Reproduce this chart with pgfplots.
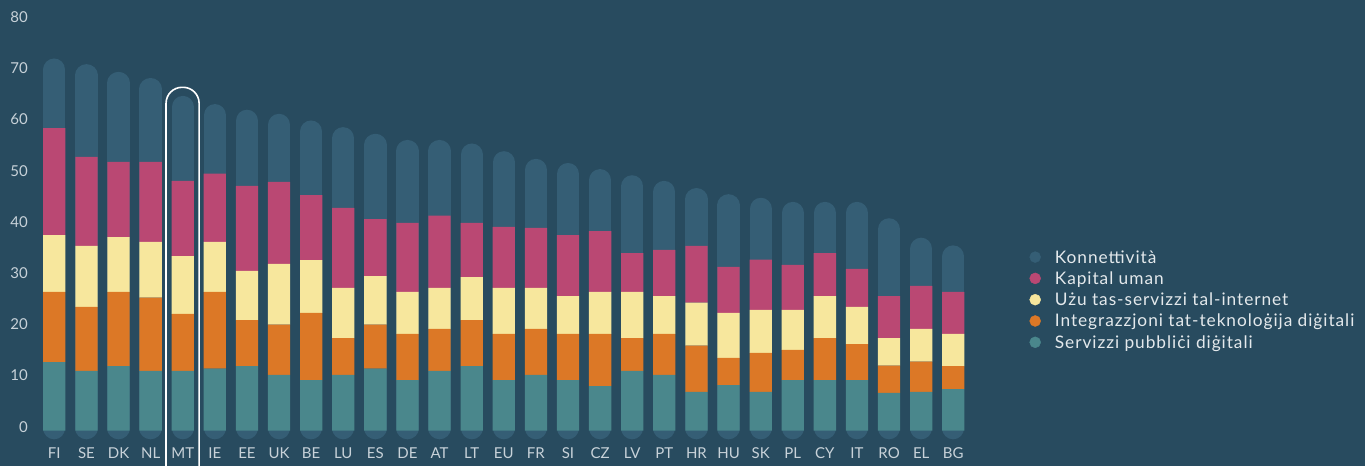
\documentclass[border=0pt]{standalone}
\usepackage{pgfplots}
\pgfplotsset{compat=1.18}
\usepackage{pgfplotstable}
\usepackage{fontspec}
\setmainfont{Lato}
\newfontfamily\legfont[LetterSpace=5.5]{Lato}
\definecolor{bg}{HTML}{284B5F}
\definecolor{pillc}{HTML}{355E75}
\definecolor{cTeal}{HTML}{4A878C}
\definecolor{cOrange}{HTML}{DC7826}
\definecolor{cYellow}{HTML}{F7E79D}
\definecolor{cPink}{HTML}{BA4873}
\definecolor{tickc}{HTML}{C8D2D9}
\definecolor{legc}{HTML}{E4E9EC}

\pgfplotstableread{
x  lab dps  int  use  hc   tot
0  FI  13.4 13.7 11.1 20.9 72.7
1  SE  11.7 12.5 11.9 17.4 71.6
2  DK  12.6 14.5 10.7 14.7 70.1
3  NL  11.7 14.3 10.9 15.6 68.9
4  MT  11.7 11.1 11.3 14.7 65.4
5  IE  12.1 15.0 9.8  13.3 63.8
6  EE  12.6 9.0  9.6  16.6 62.7
7  UK  10.9 9.8  11.9 16.0 61.9
8  BE  9.9  13.1 10.3 12.7 60.6
9  LU  10.9 7.2  9.8  15.6 59.3
10 ES  12.1 8.6  9.5  11.1 58.0
11 DE  9.9  9.0  8.2  13.5 56.8
12 AT  11.7 8.2  8.0  14.1 56.8
13 LT  12.6 9.0  8.4  10.6 56.1
14 EU  9.9  9.0  9.0  11.9 54.6
15 FR  10.9 9.0  8.0  11.7 53.1
16 SI  9.9  9.0  7.4  11.9 52.3
17 CZ  8.7  10.2 8.2  11.9 51.1
18 LV  11.7 6.4  9.0  7.6  49.9
19 PT  10.9 8.0  7.4  9.0  48.8
20 HR  7.6  9.0  8.4  11.1 47.4
21 HU  8.9  5.3  8.8  9.0  46.2
22 SK  7.6  7.6  8.4  9.8  45.5
23 PL  9.9  5.9  7.8  8.8  44.7
24 CY  9.9  8.2  8.2  8.4  44.7
25 IT  9.9  7.0  7.3  7.4  44.7
26 RO  7.4  5.3  5.4  8.2  41.5
27 EL  7.6  5.9  6.4  8.4  37.7
28 BG  8.1  4.5  6.3  8.2  36.2
}\desi

\pgfplotsset{
  base/.style={
    scale only axis, width=943.6pt, height=435.2pt,
    at={(32pt,19.94pt)}, anchor=south west,
    xmin=-0.695, xmax=28.695, ymin=-3, ymax=82,
    clip=false,
  }
}

\begin{document}
\begin{tikzpicture}
\useasboundingbox (0,0) rectangle (1365pt,466pt);
\fill[bg] (0,0) rectangle (1365pt,466pt);

% pills (connectivity / total)
\begin{axis}[base, axis lines=none]
\addplot[ycomb, draw=pillc, line width=22.3pt, line cap=round, yshift=2.55pt, mark=none]
  table[x=x, y expr=\thisrow{tot}-2.68] {\desi};
\end{axis}

% stacked segments
\begin{axis}[base,
  ybar stacked, bar width=22.3pt,
  axis line style={draw=none}, major tick length=0pt, tick style={draw=none},
  xtick={0,...,28},
  xticklabels={FI,SE,DK,NL,MT,IE,EE,UK,BE,LU,ES,DE,AT,LT,EU,FR,SI,CZ,LV,PT,HR,HU,SK,PL,CY,IT,RO,EL,BG},
  ytick={0,10,...,80},
  /pgf/number format/assume math mode=true,
  xticklabel style={font=\fontsize{15}{16}\selectfont, text=tickc, anchor=north, inner sep=0pt, yshift=-1.7pt},
  yticklabel style={font=\fontsize{15}{16}\selectfont, text=tickc, anchor=east, inner sep=0pt, xshift=-4pt, yshift=4pt},
  legend style={draw=none, fill=none, inner sep=0pt, outer sep=0pt,
    at={(axis description cs:1.0571,0.448)}, anchor=north west,
    font=\legfont\fontsize{17.3}{18}\selectfont, text=legc,
    nodes={inner sep=0pt, text height=12pt, text depth=4pt, anchor=base west},
    row sep=5.3pt},
  legend cell align=left,
]
\addplot[fill=cTeal, draw=none, forget plot] table[x=x, y=dps] {\desi};
\addplot[fill=cOrange, draw=none, forget plot] table[x=x, y=int] {\desi};
\addplot[fill=cYellow, draw=none, forget plot] table[x=x, y=use] {\desi};
\addplot[fill=cPink, draw=none, forget plot] table[x=x, y=hc] {\desi};

\addlegendimage{legend image code/.code={\fill[pillc] (5.5pt,6pt) circle (5.5pt); \path (0pt,0pt) (25pt,0pt);}}
\addlegendentry{Konnettività}
\addlegendimage{legend image code/.code={\fill[cPink] (5.5pt,6pt) circle (5.5pt); \path (0pt,0pt) (25pt,0pt);}}
\addlegendentry{Kapital uman}
\addlegendimage{legend image code/.code={\fill[cYellow] (5.5pt,6pt) circle (5.5pt); \path (0pt,0pt) (25pt,0pt);}}
\addlegendentry{Użu tas-servizzi tal-internet}
\addlegendimage{legend image code/.code={\fill[cOrange] (5.5pt,6pt) circle (5.5pt); \path (0pt,0pt) (25pt,0pt);}}
\addlegendentry{Integrazzjoni tat-teknoloġija diġitali}
\addlegendimage{legend image code/.code={\fill[cTeal] (5.5pt,6pt) circle (5.5pt); \path (0pt,0pt) (25pt,0pt);}}
\addlegendentry{Servizzi pubbliċi diġitali}

\draw[white, line width=1.6pt, rounded corners=16pt]
  (axis cs:3.48,-12) -- (axis cs:3.48,67.07) -- (axis cs:4.51,67.07) -- (axis cs:4.51,-12);
\end{axis}
\end{tikzpicture}
\end{document}
